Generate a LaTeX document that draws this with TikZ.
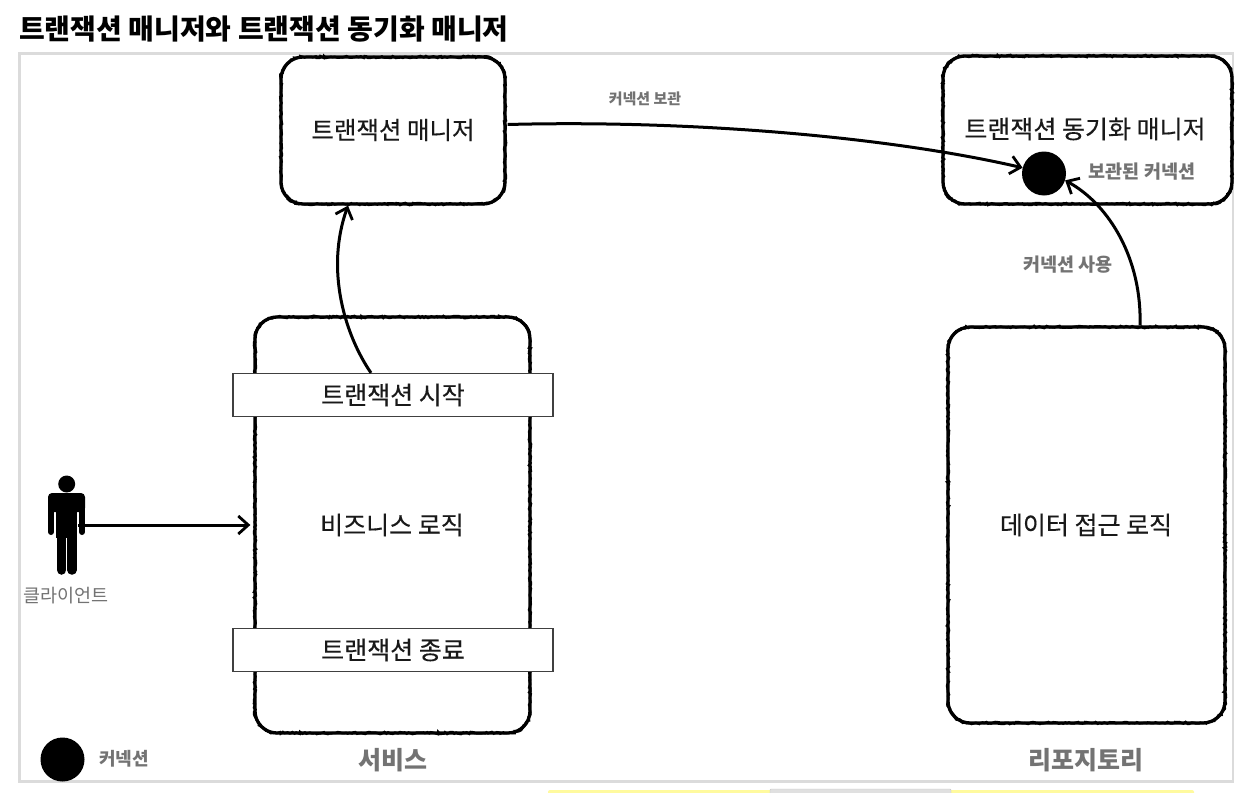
\documentclass[tikz,border=0pt]{standalone}
\usepackage{fontspec}
\setmainfont{Noto Sans CJK KR}
\newfontfamily\medfont[FakeBold=0.3]{Noto Sans CJK KR}
\usetikzlibrary{arrows.meta,decorations.pathmorphing}
\tikzset{
  x=1pt,y=-1pt,
  rough/.style={draw=black,line width=3.3pt,rounded corners=22pt,fill=white,postaction={draw=black,line width=2.4pt,sharp corners,decorate,decoration={random steps,segment length=2pt,amplitude=1.1pt}}},
  band/.style={draw=black!75,line width=1.2pt,fill=white,minimum width=320pt,minimum height=43pt,inner sep=0pt,font=\medfont\fontsize{25}{25}\selectfont,text=black!90},
  boxtext/.style={font=\medfont\fontsize{25}{25}\selectfont,text=black!90,inner sep=0pt},
  grey/.style={font=\fontsize{19}{19}\selectfont\bfseries,text=black!55,inner sep=0pt},
  greysmall/.style={font=\fontsize{15}{15}\selectfont\bfseries,text=black!55,inner sep=0pt},
  greybig/.style={font=\fontsize{25}{25}\selectfont\bfseries,text=black!55,inner sep=0pt},
  conn/.style={line width=3pt,-{Straight Barb[length=10pt,width=18pt,line width=2.8pt]}},
  dot/.style={circle,fill=black,inner sep=0pt,minimum size=44pt},
}
\begin{document}
\begin{tikzpicture}
\useasboundingbox (0,0) rectangle (1252,792);
\fill[white] (0,0) rectangle (1252,792);
% bottom strip
\fill[yellow!38,rounded corners=2pt] (548,796) -- (548,790) -- (1194,790) -- (1194,796) -- cycle;
\fill[black!12,draw=black!22,rounded corners=1pt] (770,796) -- (770,789) -- (951,789) -- (951,796) -- cycle;
\node[anchor=west,inner sep=0pt,font=\fontsize{28}{28}\selectfont\bfseries] (title) at (19,29) {트랜잭션 매니저와 트랜잭션 동기화 매니저};
\node[draw=black!14,line width=2.4pt,fill=white,minimum width=1213.5pt,minimum height=728pt,inner sep=0pt] (frame) at (626.2,417.5) {};
% boxes
\node[rough,minimum width=224pt,minimum height=147pt] (tm) at (393,130.5) {};
\node[rough,minimum width=289pt,minimum height=148pt] (sync) at (1087.5,130) {};
\node[rough,minimum width=275pt,minimum height=416pt] (svc) at (392.5,525) {};
\node[rough,minimum width=277pt,minimum height=396pt] (repo) at (1086.5,525) {};
\node[boxtext,font=\medfont\fontsize{24.5}{24.5}\selectfont] (tmt) at (393,130) {트랜잭션 매니저};
\node[boxtext] (synct) at (1085,129) {트랜잭션 동기화 매니저};
\node[boxtext] (logic) at (392,525) {비즈니스 로직};
\node[boxtext] (data) at (1086,525) {데이터 접근 로직};
\node[band] (start) at (393,395) {트랜잭션 시작};
\node[band] (end) at (393,650) {트랜잭션 종료};
% dots
\node[dot] (conn) at (1044,173.5) {};
\node[dot] (legend) at (62.5,759.5) {};
% labels
\node[greysmall] (l1) at (645,99) {커넥션 보관};
\node[grey,font=\fontsize{18.5}{18.5}\selectfont\bfseries] (l2) at (1142,172) {보관된 커넥션};
\node[grey,font=\fontsize{18.5}{18.5}\selectfont\bfseries] (l3) at (1068,265) {커넥션 사용};
\node[grey,font=\fontsize{18}{18}\selectfont\bfseries] (l4) at (124,759) {커넥션};
\node[greybig] (l5) at (392.5,760) {서비스};
\node[greybig] (l6) at (1086,760) {리포지토리};
\node[inner sep=0pt,font=\fontsize{18.5}{18.5}\selectfont,text=black!55] (client) at (66,596) {클라이언트};
% person
\fill (66.7,484) circle (8.5pt);
\fill[rounded corners=4pt] (48,493) rectangle (85,512);
\fill (56,500) rectangle (77,538);
\draw[line width=6pt,line cap=round] (51,503) -- (51,532);
\draw[line width=6pt,line cap=round] (82,503) -- (82,532);
\draw[line width=9.5pt,line cap=round] (61.7,530) -- (61.7,570);
\draw[line width=9.5pt,line cap=round] (72,530) -- (72,570);
% connectors
\coordinate (pr) at (78,525);
\draw[conn] (pr) -- ([xshift=-3pt]svc.west);
\draw[conn] ([xshift=-22pt]start.north) .. controls (345,335) and (325,270) .. ([xshift=-45pt]tm.south);
\draw[conn] ([yshift=6pt,xshift=1pt]tm.east) .. controls (680,120) and (880,135) .. (conn.165);
\draw[conn] ([xshift=53.5pt]repo.north) .. controls (1142,260) and (1110,205) .. (conn.-18);
\end{tikzpicture}
\end{document}
